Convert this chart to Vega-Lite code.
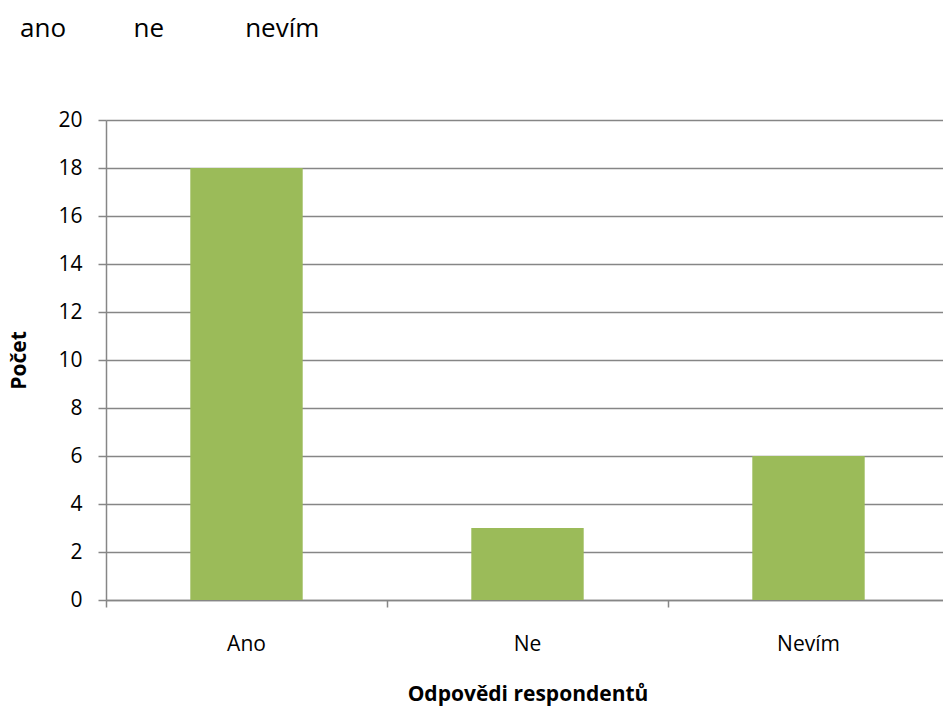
{
  "$schema": "https://vega.github.io/schema/vega-lite/v6.json",
  "width": 843,
  "height": 480,
  "autosize": "none",
  "padding": {"left": 106, "top": 120, "right": 0, "bottom": 106},
  "background": "white",
  "title": {
    "text": "ano\u00a0\u00a0\u00a0\u00a0\u00a0\u00a0\u00a0\u00a0\u00a0\u00a0ne\u00a0\u00a0\u00a0\u00a0\u00a0\u00a0\u00a0\u00a0\u00a0\u00a0\u00a0\u00a0nevím",
    "anchor": "start",
    "frame": "group",
    "dx": -86,
    "dy": 37,
    "offset": 83,
    "baseline": "alphabetic",
    "font": "Open Sans",
    "fontSize": 26,
    "fontWeight": "normal",
    "color": "black"
  },
  "data": {
    "values": [
      {"odpoved": "Ano", "pocet": 18},
      {"odpoved": "Ne", "pocet": 3},
      {"odpoved": "Nevím", "pocet": 6}
    ]
  },
  "mark": {"type": "bar", "color": "#9BBB59", "width": {"band": 0.4}},
  "encoding": {
    "x": {
      "field": "odpoved",
      "type": "nominal",
      "sort": null,
      "scale": {"paddingInner": 0, "paddingOuter": 0},
      "axis": {
        "title": "Odpovědi respondentů",
        "bandPosition": 0,
        "labelAngle": 0,
        "labelFont": "Open Sans",
        "labelFontSize": 21,
        "labelColor": "black",
        "labelPadding": 26,
        "tickSize": 7,
        "tickColor": "#868686",
        "tickWidth": 1.5,
        "domainColor": "#868686",
        "domainWidth": 1.5,
        "grid": false,
        "titleFont": "Open Sans",
        "titleFontSize": 21,
        "titleFontWeight": "bold",
        "titleColor": "black",
        "titlePadding": 29
      }
    },
    "y": {
      "field": "pocet",
      "type": "quantitative",
      "scale": {"domain": [0, 20], "nice": false},
      "axis": {
        "title": "Počet",
        "values": [0, 2, 4, 6, 8, 10, 12, 14, 16, 18, 20],
        "grid": true,
        "gridColor": "#868686",
        "gridWidth": 1.5,
        "tickSize": 8,
        "tickColor": "#868686",
        "tickWidth": 1.5,
        "domainColor": "#868686",
        "domainWidth": 1.5,
        "labelFont": "Open Sans",
        "labelFontSize": 21,
        "labelColor": "black",
        "labelPadding": 16,
        "titleFont": "Open Sans",
        "titleFontSize": 21,
        "titleFontWeight": "bold",
        "titleColor": "black",
        "titlePadding": 28
      }
    }
  },
  "config": {"view": {"stroke": null}}
}
